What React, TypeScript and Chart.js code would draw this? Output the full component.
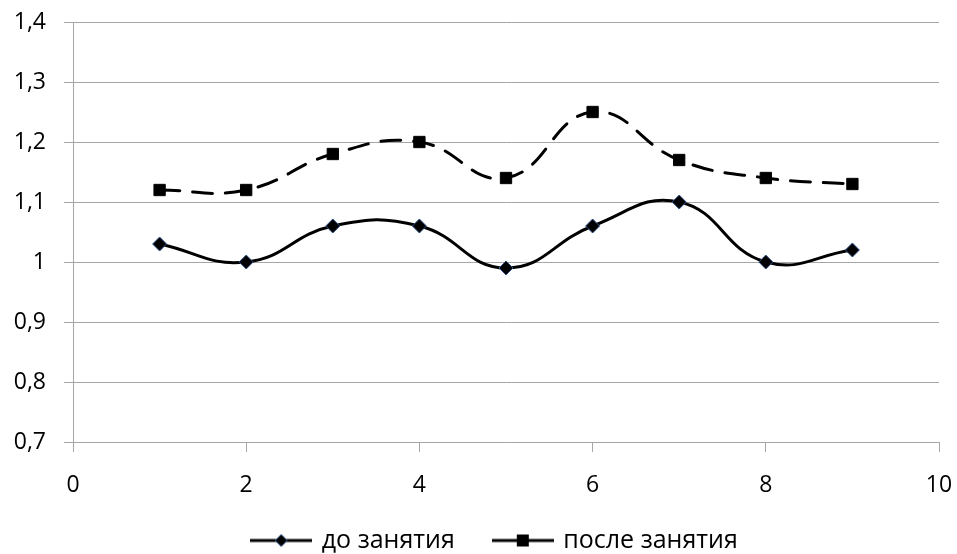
import React, { useEffect, useRef } from 'react';
import { Chart, registerables } from 'chart.js';

Chart.register(...registerables);

const xValues = [1, 2, 3, 4, 5, 6, 7, 8, 9];
const beforeValues = [1.03, 1.0, 1.06, 1.06, 0.99, 1.06, 1.1, 1.0, 1.02];
const afterValues = [1.12, 1.12, 1.18, 1.2, 1.14, 1.25, 1.17, 1.14, 1.13];
const seriesNames = ['до занятия', 'после занятия'];
const yMin = 0.7;
const yMax = 1.4;
const yStep = 0.1;
const xMin = 0;
const xMax = 10;
const xStep = 2;

const FONT = "'Open Sans', 'DejaVu Sans', sans-serif";
const GRID = '#a6a6a6';

function makeIcon(kind: 'diamond' | 'square'): HTMLCanvasElement {
  const c = document.createElement('canvas');
  c.width = 62;
  c.height = 18;
  const ctx = c.getContext('2d')!;
  ctx.strokeStyle = '#000';
  ctx.lineWidth = 3;
  ctx.beginPath();
  ctx.moveTo(0, 9);
  ctx.lineTo(62, 9);
  ctx.stroke();
  if (kind === 'diamond') {
    ctx.beginPath();
    ctx.moveTo(31, 3);
    ctx.lineTo(37, 9);
    ctx.lineTo(31, 15);
    ctx.lineTo(25, 9);
    ctx.closePath();
    ctx.fillStyle = '#000';
    ctx.fill();
    ctx.strokeStyle = '#2f4f86';
    ctx.lineWidth = 1;
    ctx.stroke();
  } else {
    ctx.fillStyle = '#000';
    ctx.fillRect(25, 3, 12, 12);
  }
  return c;
}

function fmt(v: number): string {
  return String(Number(v.toFixed(2))).replace('.', ',');
}

const legendShift = {
  id: 'legendShift',
  afterLayout(chart: any) {
    const l = chart.legend;
    if (l) {
      l.left += 26;
      l.right += 26;
      l.top -= 14;
      l.bottom -= 14;
    }
  },
};

export default function App() {
  const ref = useRef<HTMLCanvasElement | null>(null);

  useEffect(() => {
    if (!ref.current) return;
    const icons = [makeIcon('diamond'), makeIcon('square')];
    const chart = new Chart(ref.current, {
      type: 'line',
      data: {
        datasets: [
          {
            label: seriesNames[0],
            data: xValues.map((x, i) => ({ x, y: beforeValues[i] })),
            borderColor: '#000',
            borderWidth: 3,
            tension: 0.45,
            pointStyle: 'rectRot',
            pointRadius: 7,
            pointBackgroundColor: '#000',
            pointBorderColor: '#2f4f86',
            pointBorderWidth: 1,
          },
          {
            label: seriesNames[1],
            data: xValues.map((x, i) => ({ x, y: afterValues[i] })),
            borderColor: '#000',
            borderWidth: 3,
            borderDash: [20, 13],
            borderCapStyle: 'round',
            tension: 0.45,
            pointStyle: 'rect',
            pointRadius: 8,
            pointBackgroundColor: '#000',
            pointBorderColor: '#000',
            pointBorderWidth: 1,
          },
        ],
      },
      options: {
        animation: false,
        responsive: true,
        maintainAspectRatio: false,
        layout: { padding: { left: 0, right: 18, top: 22, bottom: -23 } },
        plugins: {
          tooltip: { enabled: false },
          legend: {
            position: 'bottom',
            labels: {
              usePointStyle: true,
              pointStyleWidth: 56,
              padding: 40,
              color: '#000',
              font: { family: FONT, size: 25 },
              generateLabels: (ch: any) =>
                ch.data.datasets.map((ds: any, i: number) => ({
                  text: ds.label,
                  pointStyle: icons[i],
                  fillStyle: '#000',
                  strokeStyle: '#000',
                  lineWidth: 0,
                  hidden: false,
                  datasetIndex: i,
                  fontColor: '#000',
                })),
            },
          },
        },
        scales: {
          x: {
            type: 'linear',
            min: xMin,
            max: xMax,
            afterFit: (s: any) => {
              s.height = 60;
            },
            ticks: {
              stepSize: xStep,
              padding: 4,
              color: '#000',
              font: { family: FONT, size: 23, lineHeight: 2.55 },
              maxRotation: 0,
            },
            grid: {
              drawOnChartArea: false,
              tickLength: 10,
              color: GRID,
            },
            border: { color: GRID, width: 1 },
          },
          y: {
            min: yMin,
            max: yMax,
            afterFit: (s: any) => {
              s.width = 73;
            },
            ticks: {
              stepSize: yStep,
              padding: 18,
              color: '#000',
              font: { family: FONT, size: 23, lineHeight: 0.3 },
              callback: (v: any) => fmt(Number(v)),
            },
            grid: { color: GRID, tickLength: 9 },
            border: { color: GRID, width: 1 },
          },
        },
      },
      plugins: [legendShift],
    });
    return () => chart.destroy();
  }, []);

  return (
    <div style={{ position: 'fixed', left: 0, top: 0, width: 957, height: 554, background: '#fff' }}>
      <canvas ref={ref} />
    </div>
  );
}
